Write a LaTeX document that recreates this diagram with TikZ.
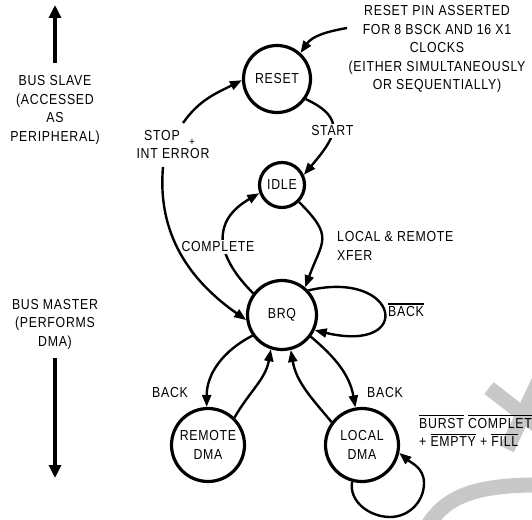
\documentclass[tikz,border=0pt]{standalone}
\usepackage{fontspec}
\setmainfont{Liberation Sans}[FakeStretch=0.85, LetterSpace=5]
\usetikzlibrary{arrows.meta}
\definecolor{wm}{RGB}{200,200,200}
\newcommand\lbl{\fontsize{14.5}{18.5}\selectfont}
\newcommand\ovl[1]{\leavevmode\vbox{\hrule height 1.2pt\kern 1.6pt\hbox{#1}}}
\begin{document}
\begin{tikzpicture}[x=1pt,y=1pt,
  every node/.style={font=\lbl, inner sep=1pt},
  state/.style={circle, draw, line width=3.2pt, inner sep=0pt, align=center},
  arr/.style={line width=2.4pt, -{Triangle[length=12pt,width=9pt]}},
  bigarr/.style={line width=3.2pt, -{Triangle[length=13pt,width=12pt]}},
  wmark/.style={draw=wm, line width=15pt}]
\useasboundingbox (0,0) rectangle (532,519);
\clip (0,0) rectangle (532,519);
% watermark
\draw[wmark] (489,131) -- (552,82);
\draw[wmark] (542,145) -- (507,70);
\draw[wmark] (428,-6) .. controls (445,20) and (470,35) .. (545,34);
% states
\node[state, minimum size=67pt] (RESET) at (277,440) {RESET};
\node[state, minimum size=45pt] (IDLE) at (282,334) {IDLE};
\node[state, minimum size=69pt] (BRQ) at (282,204) {BRQ};
\node[state, minimum size=73pt] (REMOTE) at (208,74) {REMOTE\\DMA};
\node[state, minimum size=73pt] (LOCAL) at (362,74) {LOCAL\\DMA};
% left side
\node[align=center] (slave) at (55,409) {BUS SLAVE\\(ACCESSED\\AS\\PERIPHERAL)};
\node[align=center] (master) at (55,195) {BUS MASTER\\(PERFORMS\\DMA)};
\coordinate (upS) at (55,456); \coordinate (upE) at (55,514);
\draw[bigarr] (upS) -- (upE);
\coordinate (dnS) at (55,161); \coordinate (dnE) at (55,41);
\draw[bigarr] (dnS) -- (dnE);
% reset pin
\node[align=center] (pin) at (437,470) {RESET PIN ASSERTED\\FOR 8 BSCK AND 16 X1\\CLOCKS\\(EITHER SIMULTANEOUSLY\\OR SEQUENTIALLY)};
\coordinate (pinS) at (347,491);
\draw[arr] (pinS) to[out=190,in=55] (RESET.48);
% start
\draw[arr] (RESET.-35) to[out=-25,in=50,looseness=1.6] node[fill=white, inner sep=2pt] (startlbl) {START} (IDLE.25);
% local & remote xfer
\draw[arr] (IDLE.-45) to[out=-45,in=70,looseness=1.5] (BRQ.50);
\node[align=left, anchor=west] (xfer) at (336,273) {LOCAL \& REMOTE\\XFER};
% complete
\draw[arr] (BRQ.143) to[out=135,in=210,looseness=1.4] (IDLE.200);
\node[fill=white, inner sep=2pt] (complete) at (218,272) {COMPLETE};
% stop + int error
\coordinate (stopLo) at (163,352);
\coordinate (stopHi) at (183,396);
\draw[arr] (stopLo) to[out=-95,in=145] (BRQ.188);
\draw[arr] (stopHi) to[out=55,in=207] (RESET.182);
\node (stop) at (162,383) {STOP};
\node[font=\fontsize{11}{11}\selectfont] (plus) at (192,377) {+};
\node (interr) at (173,365) {INT ERROR};
% BACK-bar self loop
\draw[arr] (BRQ.43) .. controls (400,250) and (415,165) .. (BRQ.-25);
\node (nback) at (406,209) {\ovl{BACK}};
% BRQ <-> REMOTE
\draw[arr] (BRQ.215) to[out=207,in=90] (REMOTE.92);
\node (backL) at (170,126) {BACK};
\draw[arr] (REMOTE.46) to[out=60,in=-100] (BRQ.252);
% BRQ <-> LOCAL
\draw[arr] (BRQ.-37) to[out=-40,in=100] (LOCAL.100);
\node (backR) at (385,126) {BACK};
\draw[arr] (LOCAL.143) to[out=130,in=-80] (BRQ.-76);
% LOCAL self loop
\coordinate (loopB) at (390,2);
\coordinate (loopR) at (424,36);
\draw[arr] (LOCAL.255) to[out=260,in=180] (loopB) to[out=0,in=-90] (loopR) to[out=90,in=-40] (LOCAL.-12);
\node[align=left, anchor=west] (burst) at (418,88) {\ovl{BURST} \ovl{COMPLETE}\\+ \ovl{EMPTY} + \ovl{FILL}};
\end{tikzpicture}
\end{document}
